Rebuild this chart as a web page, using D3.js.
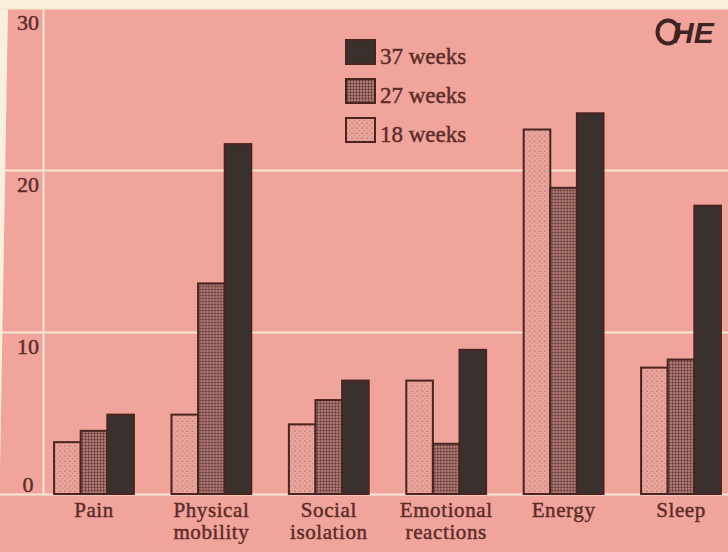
<!DOCTYPE html>
<html>
<head>
<meta charset="utf-8">
<script src="https://cdn.jsdelivr.net/npm/d3@7"></script>
<style>
  html, body { margin: 0; padding: 0; background: #f8efdc; }
  svg { display: block; }
</style>
</head>
<body>
<svg id="chart" width="728" height="552"></svg>
<script>
// Quality-of-life dimensions measured at three follow-up points
const categories = ["Pain", "Physical mobility", "Social isolation", "Emotional reactions", "Energy", "Sleep"];
const seriesNames = ["18 weeks", "27 weeks", "37 weeks"];
const weeks18 = [3.2, 4.9, 4.3, 7.0, 22.5, 7.8];
const weeks27 = [3.9, 13.0, 5.8, 3.1, 18.9, 8.3];
const weeks37 = [4.9, 21.6, 7.0, 8.9, 23.5, 17.8];
const yTicks = [0, 10, 20, 30];

const seriesValues = [weeks18, weeks27, weeks37];

const W = 728, H = 552;
const pink = "#f1a49c";
const cream = "#f8e8d6";
const ink = "#5c2c28";
const outline = "#4a2420";
const serif = "'Liberation Serif', serif";

const svg = d3.select("#chart");

// paper background with the pink panel
svg.append("rect").attr("width", W).attr("height", H).attr("fill", pink);
svg.append("path")
  .attr("d", "M0,0 L728,0 L728,9 L8,9 L0,470 Z")
  .attr("fill", "#f8efdc");

// fill patterns for the stippled bars
const defs = svg.append("defs");
const p18 = defs.append("pattern").attr("id", "p18")
  .attr("patternUnits", "userSpaceOnUse").attr("width", 5).attr("height", 5);
p18.append("rect").attr("width", 5).attr("height", 5).attr("fill", "#eaa39b");
p18.append("circle").attr("cx", 1).attr("cy", 1).attr("r", 0.6).attr("fill", "#7a433e");
p18.append("circle").attr("cx", 3.5).attr("cy", 3.5).attr("r", 0.45).attr("fill", "#9a5a54");

const p27 = defs.append("pattern").attr("id", "p27")
  .attr("patternUnits", "userSpaceOnUse").attr("width", 3).attr("height", 3);
p27.append("rect").attr("width", 3).attr("height", 3).attr("fill", "#b07a74");
p27.append("circle").attr("cx", 1.5).attr("cy", 1.5).attr("r", 0.9).attr("fill", "#4a2826");

const fills = ["url(#p18)", "url(#p27)", "#3a312e"];

// scales
const y = d3.scaleLinear().domain([0, 30]).range([494, 8]);
const x0 = d3.scaleBand().domain(categories).range([35.3, 739.7])
  .paddingInner(0.32).paddingOuter(0.16);
const x1 = d3.scaleBand().domain(seriesNames).range([0, x0.bandwidth()]);

// shared look for the serif labels
function serifText(sel, size) {
  sel.attr("fill", ink)
    .attr("stroke", ink)
    .attr("stroke-width", 0.45)
    .attr("font-family", serif)
    .attr("font-size", size);
}

// gridlines across the panel, values in the left column
const yAxis = d3.axisRight(y).tickValues(yTicks).tickSize(W).tickFormat(d3.format("d"));
const gy = svg.append("g").attr("class", "y-axis").call(yAxis);
gy.select(".domain").remove();
gy.selectAll(".tick line").attr("stroke", cream).attr("stroke-width", 2);
gy.selectAll(".tick text")
  .attr("x", 28)
  .attr("dy", d => d === 0 ? "-3px" : "21px")
  .attr("text-anchor", "middle")
  .call(serifText, 22);

// vertical divider between the value column and the plot
svg.append("line")
  .attr("x1", 43.5).attr("x2", 43.5)
  .attr("y1", y(30)).attr("y2", y(0))
  .attr("stroke", cream).attr("stroke-width", 2);

// grouped bars
const groups = svg.append("g").selectAll("g")
  .data(categories)
  .join("g")
  .attr("transform", d => `translate(${x0(d)},0)`);

groups.selectAll("rect")
  .data((c, ci) => seriesNames.map((s, si) => ({ s, si, v: seriesValues[si][ci] })))
  .join("rect")
  .attr("x", d => x1(d.s))
  .attr("width", x1.bandwidth())
  .attr("y", d => y(d.v))
  .attr("height", d => y(0) - y(d.v))
  .attr("fill", d => fills[d.si])
  .attr("stroke", outline)
  .attr("stroke-width", 2);

// category labels, wrapped onto two lines
const xAxis = d3.axisBottom(x0).tickSize(0).tickPadding(0);
const gx = svg.append("g").attr("transform", `translate(0,${y(0)})`).call(xAxis);
gx.select(".domain").remove();
gx.selectAll(".tick text").each(function (d) {
  const t = d3.select(this);
  const words = d.split(" ");
  t.text(null).attr("y", 0).attr("dy", null)
    .call(serifText, 21)
    .attr("letter-spacing", 0.6);
  words.forEach((w, i) => {
    t.append("tspan").attr("x", 0).attr("y", 23 + i * 22).text(w);
  });
});

// legend, latest measurement first
const legend = svg.append("g").attr("transform", "translate(346,0)");
const legendItems = legend.selectAll("g")
  .data(seriesNames.slice().reverse())
  .join("g")
  .attr("transform", (d, i) => `translate(0,${64 + i * 39})`);
legendItems.append("rect")
  .attr("x", 0).attr("y", -24).attr("width", 29).attr("height", 24)
  .attr("fill", d => fills[seriesNames.indexOf(d)])
  .attr("stroke", outline).attr("stroke-width", 2);
legendItems.append("text")
  .attr("x", 34).attr("y", 0)
  .call(serifText, 23)
  .text(d => d);

// publisher mark
const logo = svg.append("g");
logo.append("ellipse")
  .attr("cx", 668).attr("cy", 32).attr("rx", 10.5).attr("ry", 11.5)
  .attr("fill", "none").attr("stroke", "#3e2422").attr("stroke-width", 4);
logo.append("text")
  .attr("x", 672).attr("y", 43)
  .attr("fill", "#3e2422")
  .attr("font-family", "'Liberation Sans', sans-serif")
  .attr("font-weight", "bold")
  .attr("font-style", "italic")
  .attr("font-size", 30)
  .text("HE");
</script>
</body>
</html>
